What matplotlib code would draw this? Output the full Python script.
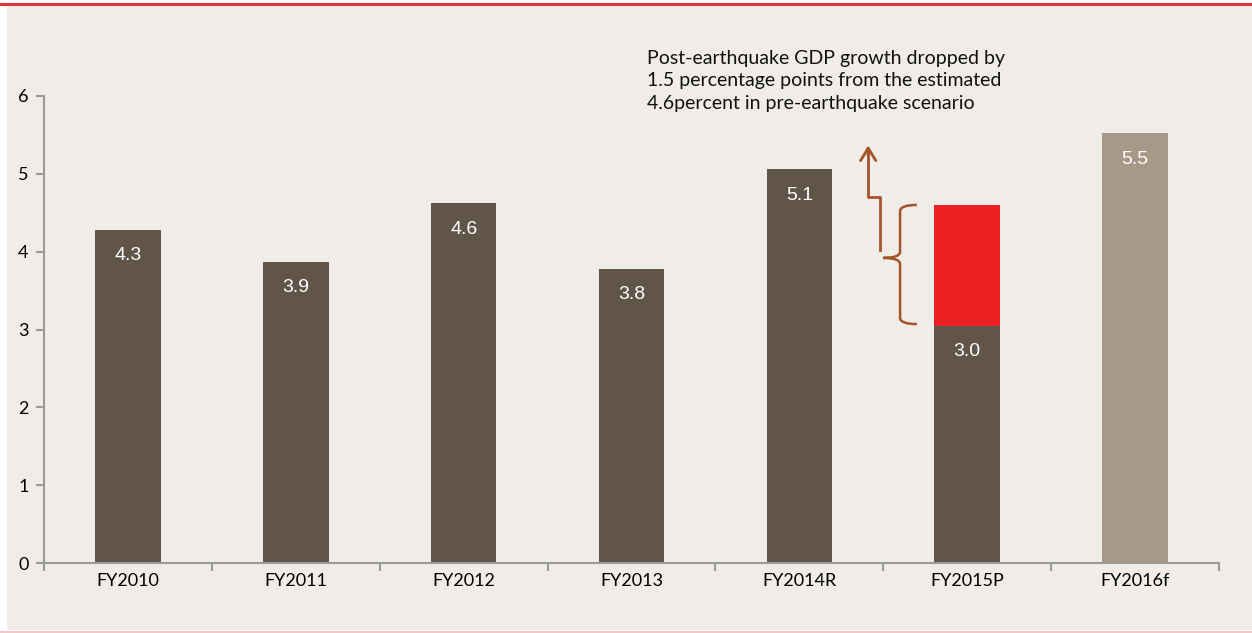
import numpy as np
import matplotlib.pyplot as plt
from matplotlib.path import Path
from matplotlib.patches import PathPatch, Rectangle
from matplotlib.lines import Line2D

# data
years = ['FY2010', 'FY2011', 'FY2012', 'FY2013', 'FY2014R', 'FY2015P', 'FY2016f']
growth = [4.28, 3.87, 4.62, 3.78, 5.06, 3.05, 5.52]
labels = ['4.3', '3.9', '4.6', '3.8', '5.1', '3.0', '5.5']
pre_quake = 4.6          # FY2015P estimate before the earthquake
note = ('Post-earthquake GDP growth dropped by\n'
        '1.5 percentage points from the estimated\n'
        '4.6percent in pre-earthquake scenario')

dark = '#615549'
light = '#a89888'
red = '#ee2024'
brown = '#a5532a'
bg = '#f0ede8'

fig = plt.figure(figsize=(12.52, 6.33), dpi=100, facecolor='white')
# panel background + rules
fig.patches.append(Rectangle((7/1252, 3/633), 1, 1 - 9/633, transform=fig.transFigure,
                             facecolor=bg, edgecolor='none', zorder=-10))
fig.lines.append(Line2D([0, 1], [1 - 4/633, 1 - 4/633], transform=fig.transFigure,
                        color='#d9363e', lw=2.2))
fig.lines.append(Line2D([0, 1], [1.5/633, 1.5/633], transform=fig.transFigure,
                        color='#f5c6c6', lw=1.5))

ax = fig.add_axes([44/1252, 1 - 563/633, (1219 - 44)/1252, (563 - 96)/633])
ax.set_facecolor('none')

x = np.arange(len(years))
cols = [dark] * 6 + [light]
ax.bar(x, growth, width=0.39, color=cols, zorder=2)
# the part lost after the earthquake
ax.bar(x[5], pre_quake - growth[5], bottom=growth[5], width=0.39, color=red, zorder=2)

for xi, v, lab in zip(x, growth, labels):
    ax.annotate(lab, (xi, v), xytext=(0, -26), textcoords='offset pixels',
                ha='center', va='center', color='white', fontsize=14,
                family='Liberation Sans')

ax.set_xlim(-0.5, 6.5)
ax.set_ylim(0, 6)
for s in ['top', 'right']:
    ax.spines[s].set_visible(False)
for s in ['left', 'bottom']:
    ax.spines[s].set_color('#9a9a9a')
    ax.spines[s].set_linewidth(1.5)

ax.set_yticks(range(7))
ax.tick_params(axis='y', length=6, width=1.5, color='#9a9a9a', labelsize=13, pad=5)
ax.set_xticks(x)
ax.set_xticklabels(years)
ax.set_xticks(np.arange(-0.5, 7, 1), minor=True)
ax.tick_params(axis='x', which='major', length=0, labelsize=13, pad=7)
ax.tick_params(axis='x', which='minor', length=6, width=1.5, color='#9a9a9a')
for t in ax.get_xticklabels() + ax.get_yticklabels():
    t.set_family('Lato')

# curly brace beside FY2015P
bx = 5 - 0.40
tip = bx - 0.10
top, bot = pre_quake, growth[5] + 0.02
mid = 3.92
verts = [(bx + 0.10, top), (bx, top), (bx, top - 0.08),
         (bx, mid + 0.08), (bx, mid), (tip, mid),
         (bx, mid), (bx, mid - 0.08),
         (bx, bot + 0.08), (bx, bot), (bx + 0.10, bot)]
codes = [Path.MOVETO, Path.CURVE3, Path.CURVE3,
         Path.LINETO, Path.CURVE3, Path.CURVE3,
         Path.CURVE3, Path.CURVE3,
         Path.LINETO, Path.CURVE3, Path.CURVE3]
ax.add_patch(PathPatch(Path(verts, codes), facecolor='none', edgecolor=brown, lw=1.8,
                       clip_on=False, zorder=3))

# stepped arrow pointing to the note
ax.plot([5 - 0.52, 5 - 0.52, 5 - 0.59, 5 - 0.59], [4.02, 4.70, 4.70, 5.25],
        color=brown, lw=2, clip_on=False, zorder=3)
ax.annotate('', xy=(5 - 0.59, 5.40), xytext=(5 - 0.59, 5.2),
            arrowprops=dict(arrowstyle='->,head_length=0.9,head_width=0.55', color=brown, lw=2))

fig.text(647/1252, 1 - 50/633, note, ha='left', va='top', fontsize=14,
         family='Lato', linespacing=1.38, color='#111111')

fig.savefig('out.png', dpi=100, facecolor=fig.get_facecolor())
